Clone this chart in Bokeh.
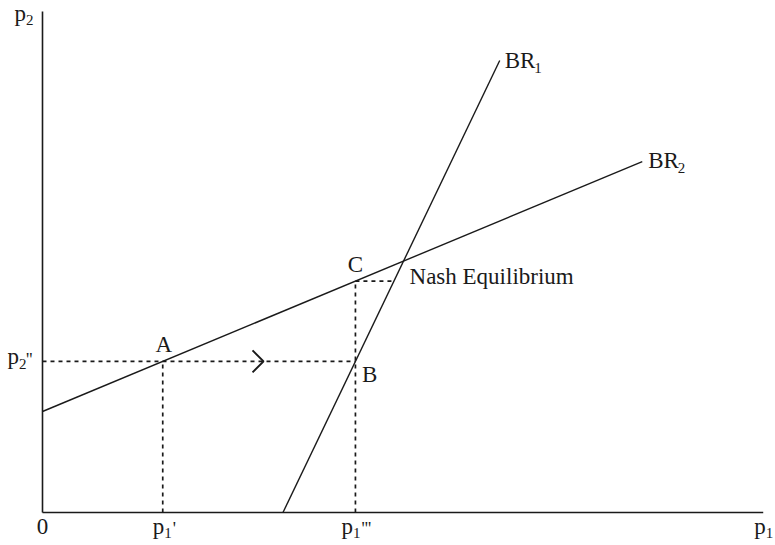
import numpy as np
from bokeh.plotting import figure
from bokeh.models import ColumnDataSource
from bokeh.core.properties import value
from bokeh.embed import file_html
from bokeh.resources import INLINE

# ---- data (model units) ----
br2_intercept = 20.2      # p2 when p1 = 0 on BR2
br2_slope = 0.6           # dp2/dp1 along BR2
br2_end_p1 = 83.3         # where BR2 is drawn to
br1_intercept = 33.4      # p1 where BR1 meets the p1 axis
br1_slope = 0.333         # dp1/dp2 along BR1
br1_end_p2 = 90.4         # where BR1 is drawn to
p1_prime = 16.7           # p1'
arrow_p1 = 30.7           # position of arrowhead on the dashed line
axis_end_x = 100.1
axis_end_y = 100.2

x_tick_main = ["0", "p", "p", "p"]
x_tick_sub = ["", "1", "1", "1"]
x_tick_primes = ["", "'", "'''", ""]

# derived points
p2_dd = br2_intercept + br2_slope * p1_prime            # p2''
p1_ttt = br1_intercept + br1_slope * p2_dd              # p1''' (point B)
p2_C = br2_intercept + br2_slope * p1_ttt               # point C height
p1_C_br1 = br1_intercept + br1_slope * p2_C             # BR1 at C's height
nash_p1 = (br1_intercept + br1_slope * br2_intercept) / (1 - br1_slope * br2_slope)
nash_p2 = br2_intercept + br2_slope * nash_p1
br2_end_p2 = br2_intercept + br2_slope * br2_end_p1
br1_end_p1 = br1_intercept + br1_slope * br1_end_p2

# ---- layout ----
W, H = 775, 545
XS, YS = 7.2, 5.0   # px per unit
x0 = -42 / XS
y0 = -33 / YS
p = figure(width=W, height=H, x_range=(x0, x0 + W / XS), y_range=(y0, y0 + H / YS),
           output_backend="svg", toolbar_location=None, x_axis_type=None, y_axis_type=None,
           min_border=0)
p.grid.visible = False
p.outline_line_color = None
p.background_fill_color = "white"
p.border_fill_color = "white"

INK = "#1a1a1a"
FONT = value("Liberation Serif")
BIG, SMALL, PRIME = 23, 15, 18
SHIFT = 0.39  # empirical baseline correction (fraction of font size)

# axes
p.line([0, axis_end_x], [0, 0], line_color=INK, line_width=1.6)
p.line([0, 0], [0, axis_end_y], line_color=INK, line_width=1.6)

# best response lines
p.line([0, br2_end_p1], [br2_intercept, br2_end_p2], line_color=INK, line_width=1.4)
p.line([br1_intercept, br1_end_p1], [0, br1_end_p2], line_color=INK, line_width=1.4)

# dotted guides
dash = dict(line_color=INK, line_width=1.7, line_dash="4 4")
p.line([0, p1_ttt], [p2_dd, p2_dd], **dash)
p.line([p1_prime, p1_prime], [0, p2_dd], **dash)
p.line([p1_ttt, p1_ttt], [0, p2_C], **dash)
p.line([p1_ttt, p1_C_br1], [p2_C, p2_C], **dash)

# arrowhead (open chevron)
arm = 11
p.line([arrow_p1 - arm / XS, arrow_p1, arrow_p1 - arm / XS],
       [p2_dd + arm / YS, p2_dd, p2_dd - arm / YS], line_color=INK, line_width=2)

# ---- texts ----
groups = {s: dict(x=[], y=[], text=[], dx=[], dy=[], align=[]) for s in (BIG, SMALL, PRIME)}

def put(size, x, y, t, dx, dy, align="left"):
    d = groups[size]
    d["x"].append(x); d["y"].append(y); d["text"].append(t)
    d["dx"].append(dx); d["dy"].append(dy - SHIFT * size); d["align"].append(align)

# x tick labels
tick_x = [0, p1_prime, p1_ttt, axis_end_x]
main_dx = [0, -10, -14, -9]
for tx, m, s, pr, mdx in zip(tick_x, x_tick_main, x_tick_sub, x_tick_primes, main_dx):
    if s == "":
        put(BIG, tx, 0, m, 0, 22.5, "center")
    else:
        put(BIG, tx, 0, m, mdx, 22.5)
        put(SMALL, tx, 0, s, mdx + 11.5, 26.5)
        if pr:
            put(PRIME, tx, 0, pr, mdx + 20, 23.5)

# y labels
put(BIG, 0, axis_end_y, "p", -28, 10.5)
put(SMALL, 0, axis_end_y, "2", -16.5, 14.5)
put(BIG, 0, p2_dd, "p", -35, 4)
put(SMALL, 0, p2_dd, "2", -23.5, 8)
put(PRIME, 0, p2_dd, "''", -16.5, 6)

# point labels
put(BIG, p1_prime, p2_dd, "A", 1, -8, "center")
put(BIG, p1_ttt, p2_dd, "B", 6.5, 22)
put(BIG, p1_ttt, p2_C, "C", 0, -7.5, "center")
put(BIG, nash_p1, nash_p2, "Nash Equilibrium", 6, 24.5)
put(BIG, br1_end_p1, br1_end_p2, "BR", 5, 9)
put(SMALL, br1_end_p1, br1_end_p2, "1", 34.5, 13)
put(BIG, br2_end_p1, br2_end_p2, "BR", 6, 8)
put(SMALL, br2_end_p1, br2_end_p2, "2", 35.5, 12)

for size, d in groups.items():
    src = ColumnDataSource(d)
    p.text(x="x", y="y", text="text", x_offset="dx", y_offset="dy", text_align="align",
           text_baseline="alphabetic", text_font=FONT, text_font_size=f"{size}px",
           text_color=INK, source=src)

open("out.html", "w").write(file_html(p, INLINE))
